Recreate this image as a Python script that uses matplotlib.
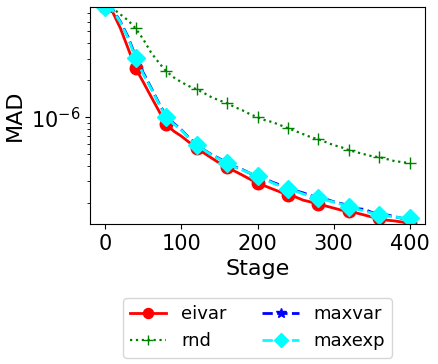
import numpy as np
import matplotlib
matplotlib.use("Agg")
import matplotlib.pyplot as plt

# stages where the curves were read (every 10)
stage = np.arange(0, 401, 10)

eivar = [7.84e-6, 7.14e-6, 5.29e-6, 3.64e-6, 2.50e-6, 1.93e-6, 1.48e-6, 1.14e-6,
         8.77e-7, 7.70e-7, 7.01e-7, 6.26e-7, 5.60e-7, 5.09e-7, 4.64e-7, 4.23e-7,
         3.92e-7, 3.64e-7, 3.38e-7, 3.13e-7, 2.91e-7, 2.75e-7, 2.60e-7, 2.46e-7,
         2.32e-7, 2.24e-7, 2.11e-7, 2.04e-7, 1.96e-7, 1.89e-7, 1.82e-7, 1.75e-7,
         1.72e-7, 1.66e-7, 1.60e-7, 1.54e-7, 1.51e-7, 1.45e-7, 1.43e-7, 1.40e-7,
         1.37e-7]

rnd = [8.0e-6, 7.69e-6, 6.87e-6, 6.15e-6, 5.29e-6, 4.31e-6, 3.38e-6, 2.80e-6,
       2.37e-6, 2.11e-6, 1.93e-6, 1.79e-6, 1.69e-6, 1.57e-6, 1.45e-6, 1.37e-6,
       1.30e-6, 1.21e-6, 1.14e-6, 1.06e-6, 1.00e-6, 9.45e-7, 9.11e-7, 8.61e-7,
       8.14e-7, 7.70e-7, 7.28e-7, 6.88e-7, 6.62e-7, 6.26e-7, 5.92e-7, 5.70e-7,
       5.39e-7, 5.19e-7, 5.00e-7, 4.82e-7, 4.73e-7, 4.56e-7, 4.39e-7, 4.31e-7,
       4.23e-7]

maxvar = [7.84e-6, 7.50e-6, 6.00e-6, 4.50e-6, 3.10e-6, 2.30e-6, 1.75e-6, 1.32e-6,
          1.02e-6, 8.90e-7, 7.90e-7, 6.80e-7, 6.00e-7, 5.40e-7, 4.95e-7, 4.60e-7,
          4.25e-7, 3.95e-7, 3.75e-7, 3.50e-7, 3.35e-7, 3.15e-7, 2.95e-7, 2.80e-7,
          2.62e-7, 2.52e-7, 2.42e-7, 2.30e-7, 2.22e-7, 2.15e-7, 2.05e-7, 1.98e-7,
          1.90e-7, 1.80e-7, 1.78e-7, 1.68e-7, 1.62e-7, 1.60e-7, 1.55e-7, 1.50e-7,
          1.52e-7]

maxexp = [7.84e-6, 7.41e-6, 5.92e-6, 4.39e-6, 3.02e-6, 2.24e-6, 1.72e-6, 1.30e-6,
          1.00e-6, 8.77e-7, 7.84e-7, 6.75e-7, 5.92e-7, 5.39e-7, 4.91e-7, 4.56e-7,
          4.23e-7, 3.92e-7, 3.71e-7, 3.51e-7, 3.31e-7, 3.13e-7, 2.91e-7, 2.75e-7,
          2.60e-7, 2.50e-7, 2.37e-7, 2.28e-7, 2.19e-7, 2.11e-7, 2.04e-7, 1.96e-7,
          1.85e-7, 1.79e-7, 1.72e-7, 1.66e-7, 1.60e-7, 1.57e-7, 1.54e-7, 1.51e-7,
          1.51e-7]

fig = plt.figure(figsize=(4.38, 3.64), dpi=100)
ax = fig.add_axes([90/438, 1 - 224/364, 335/438, 217/364])

ax.plot(stage, eivar, "r-", marker="o", markersize=9, markevery=4, lw=2, label="eivar")
ax.plot(stage, rnd, "g:", marker="+", markersize=9, markevery=4, lw=1.6, label="rnd")
ax.plot(stage, maxvar, "b--", marker="*", markersize=9, markevery=4, lw=2, label="maxvar")
ax.plot(stage, maxexp, color="cyan", ls="--", marker="D", markersize=9, markevery=4,
        lw=2, label="maxexp")

ax.set_yscale("log")
ax.set_xlim(-20, 420)
ax.set_ylim(1.35e-7, 7.9e-6)
ax.set_xticks([0, 100, 200, 300, 400])
ax.tick_params(axis="both", which="major", labelsize=15)
ax.yaxis.set_minor_formatter(matplotlib.ticker.NullFormatter())
ax.set_xlabel("Stage", fontsize=16)
ax.set_ylabel("MAD", fontsize=16)

ax.legend(loc="upper center", bbox_to_anchor=(0.5, -0.3), ncol=2, fontsize=13,
          markerscale=0.8)

plt.savefig("out.png", dpi=100)
